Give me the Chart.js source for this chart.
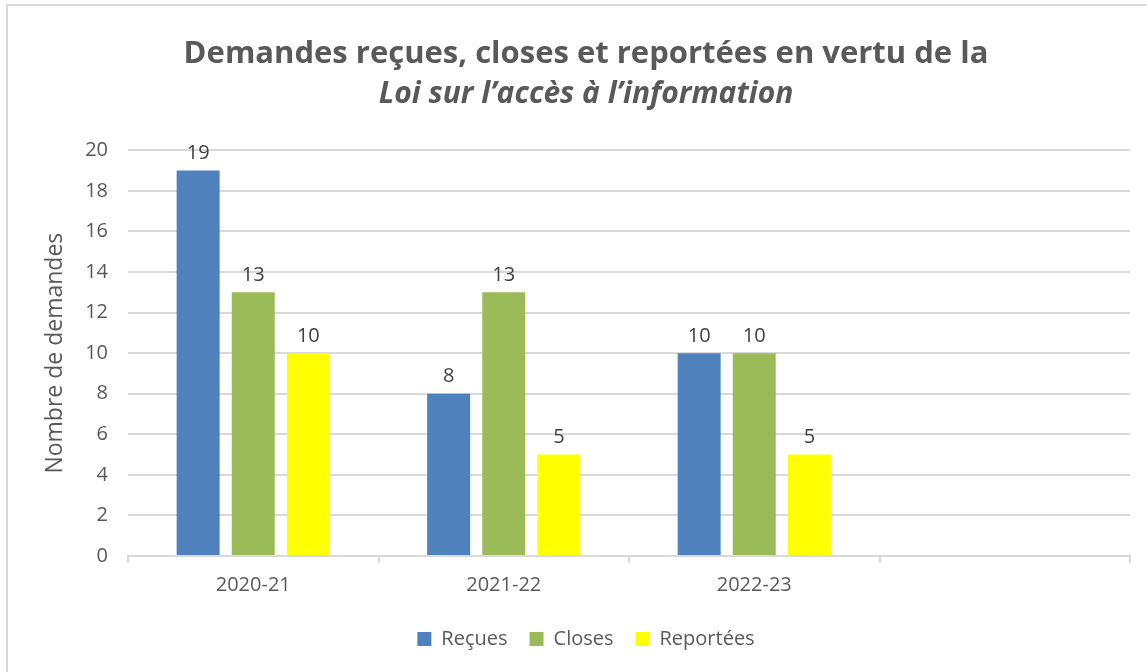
<!DOCTYPE html>
<html>
<head>
<meta charset="utf-8">
<script src="https://cdn.jsdelivr.net/npm/chart.js@4"></script>
<style>
  body { margin: 0; background: #fff; }
  #frame {
    position: absolute; left: 6px; top: 4px; width: 1141px; height: 668px;
    border-left: 2px solid #d9d9d9; border-top: 2px solid #d9d9d9;
    box-sizing: border-box;
  }
  #wrap { position: absolute; left: 0; top: 0; width: 1147px; height: 672px; }
</style>
</head>
<body>
<div id="frame"></div>
<div id="wrap"><canvas id="demandes"></canvas></div>
<script>
const categories = ['2020-21', '2021-22', '2022-23', ''];
const recues = [19, 8, 10, null];
const closes = [13, 13, 10, null];
const reportees = [10, 5, 5, null];
const yTicks = [0, 2, 4, 6, 8, 10, 12, 14, 16, 18, 20];

const textColor = '#595959';
const gridColor = '#d9d9d9';
const fontFamily = "'Open Sans', sans-serif";

// etiquettes de valeur au-dessus des barres
const valueLabels = {
  id: 'valueLabels',
  afterDatasetsDraw(chart) {
    const ctx = chart.ctx;
    ctx.save();
    ctx.font = '20px ' + fontFamily;
    ctx.fillStyle = '#404040';
    ctx.textAlign = 'center';
    ctx.textBaseline = 'bottom';
    chart.data.datasets.forEach((ds, i) => {
      const meta = chart.getDatasetMeta(i);
      meta.data.forEach((bar, j) => {
        const v = ds.data[j];
        if (v === null || v === undefined) return;
        ctx.fillText(String(v), bar.x, bar.y - 7);
      });
    });
    ctx.restore();
  }
};

const data = {
  labels: categories,
  datasets: [
    { label: 'Reçues', data: recues, backgroundColor: '#4f81bd' },
    { label: 'Closes', data: closes, backgroundColor: '#9bbb59' },
    { label: 'Reportées', data: reportees, backgroundColor: '#ffff00' }
  ]
};

const config = {
  type: 'bar',
  data: data,
  plugins: [valueLabels],
  options: {
    responsive: true,
    maintainAspectRatio: false,
    animation: false,
    categoryPercentage: 0.66,
    barPercentage: 0.78,
    layout: {
      padding: { left: 42, right: 17, top: 0, bottom: 13 }
    },
    scales: {
      y: {
        min: 0,
        max: 20,
        afterBuildTicks: (scale) => {
          scale.ticks = yTicks.map(v => ({ value: v }));
        },
        afterFit: (scale) => { scale.width = 86; },
        ticks: {
          color: textColor,
          font: { family: fontFamily, size: 20 },
          padding: 20
        },
        grid: { color: gridColor, lineWidth: 2, drawTicks: false },
        border: { display: false },
        title: {
          display: true,
          text: 'Nombre de demandes',
          color: textColor,
          font: { family: fontFamily, size: 23 },
          padding: { top: 0, bottom: 0 }
        }
      },
      x: {
        ticks: {
          color: textColor,
          font: { family: fontFamily, size: 20 },
          padding: 10
        },
        grid: {
          drawOnChartArea: false,
          color: gridColor,
          lineWidth: 2,
          tickLength: 7
        },
        border: { color: gridColor, width: 2 }
      }
    },
    plugins: {
      title: {
        display: true,
        text: 'Demandes reçues, closes et reportées en vertu de la',
        color: textColor,
        font: { family: fontFamily, size: 31, weight: 'bold', lineHeight: 1.3 },
        padding: { top: 34, bottom: 0 }
      },
      subtitle: {
        display: true,
        text: 'Loi sur l\u2019accès à l\u2019information',
        color: textColor,
        font: { family: fontFamily, size: 30, weight: 'bold', style: 'italic', lineHeight: 1.3 },
        padding: { top: 1, bottom: 36 }
      },
      legend: {
        position: 'bottom',
        labels: {
          color: textColor,
          font: { family: fontFamily, size: 20 },
          boxWidth: 14,
          boxHeight: 14,
          padding: 22
        }
      },
      tooltip: { enabled: false }
    }
  }
};

new Chart(document.getElementById('demandes'), config);
</script>
</body>
</html>
